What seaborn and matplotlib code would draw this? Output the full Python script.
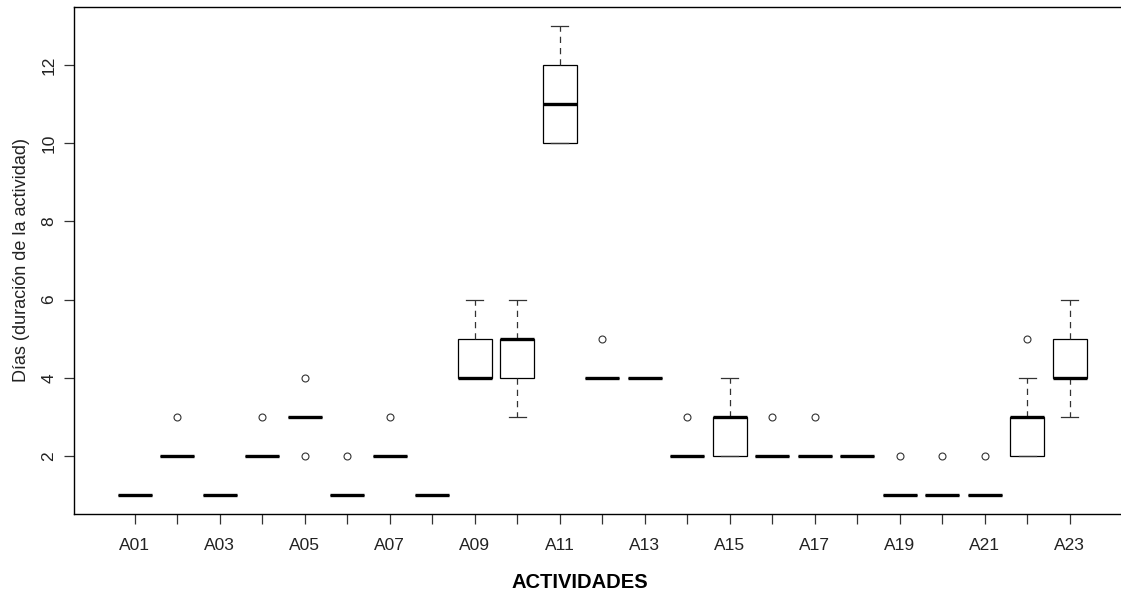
import matplotlib
matplotlib.use("Agg")
import matplotlib.pyplot as plt
import seaborn as sns
import pandas as pd

a01 = [1, 1, 1, 1, 1, 1, 1, 1, 1, 1]
a02 = [2, 2, 2, 2, 2, 2, 2, 2, 2, 3]
a03 = [1, 1, 1, 1, 1, 1, 1, 1, 1, 1]
a04 = [2, 2, 2, 2, 2, 2, 2, 2, 2, 3]
a05 = [2, 3, 3, 3, 3, 3, 3, 3, 3, 4]
a06 = [1, 1, 1, 1, 1, 1, 1, 1, 1, 2]
a07 = [2, 2, 2, 2, 2, 2, 2, 2, 2, 3]
a08 = [1, 1, 1, 1, 1, 1, 1, 1, 1, 1]
a09 = [4, 4, 4, 4, 4, 4, 5, 5, 6, 6]
a10 = [3, 4, 4, 4, 5, 5, 5, 5, 6, 6]
a11 = [10, 10, 10, 10, 11, 11, 12, 12, 12, 13]
a12 = [4, 4, 4, 4, 4, 4, 4, 4, 4, 5]
a13 = [4, 4, 4, 4, 4, 4, 4, 4, 4, 4]
a14 = [2, 2, 2, 2, 2, 2, 2, 2, 2, 3]
a15 = [2, 2, 2, 2, 3, 3, 3, 3, 3, 4]
a16 = [2, 2, 2, 2, 2, 2, 2, 2, 2, 3]
a17 = [2, 2, 2, 2, 2, 2, 2, 2, 2, 3]
a18 = [2, 2, 2, 2, 2, 2, 2, 2, 2, 2]
a19 = [1, 1, 1, 1, 1, 1, 1, 1, 1, 2]
a20 = [1, 1, 1, 1, 1, 1, 1, 1, 1, 2]
a21 = [1, 1, 1, 1, 1, 1, 1, 1, 1, 2]
a22 = [2, 2, 2, 2, 3, 3, 3, 3, 4, 5]
a23 = [3, 4, 4, 4, 4, 4, 5, 5, 5, 6]

activities = ["A01", "A02", "A03", "A04", "A05", "A06", "A07", "A08", "A09",
              "A10", "A11", "A12", "A13", "A14", "A15", "A16", "A17", "A18",
              "A19", "A20", "A21", "A22", "A23"]
series = [a01, a02, a03, a04, a05, a06, a07, a08, a09, a10, a11, a12, a13,
          a14, a15, a16, a17, a18, a19, a20, a21, a22, a23]
y_ticks = [2, 4, 6, 8, 10, 12]
x_label = "ACTIVIDADES"
y_label = "Días (duración de la actividad)"

rows = []
for act, vals in zip(activities, series):
    for v in vals:
        rows.append({"act": act, "dias": v})
df = pd.DataFrame(rows)

plt.rcParams["font.family"] = ["Liberation Sans", "DejaVu Sans"]

W, H = 1121, 592
fig = plt.figure(figsize=(W / 100, H / 100), dpi=100)
ax = fig.add_axes([74.3 / W, 1 - 514 / H, 1055.7 / W, 507 / H])

sns.boxplot(
    data=df, x="act", y="dias", order=activities, ax=ax,
    color="white", linecolor="black", linewidth=0.9, width=0.8, whis=1.5,
    saturation=1,
    medianprops=dict(color="black", linewidth=2.4, solid_capstyle="butt"),
    whiskerprops=dict(color="#333333", linestyle=(0, (5, 4)), linewidth=0.9),
    capprops=dict(color="#333333", linewidth=0.9),
    boxprops=dict(edgecolor="black", linewidth=0.9),
    flierprops=dict(marker="o", markerfacecolor="none", markeredgecolor="#333333",
                    markersize=5, markeredgewidth=0.8),
)

ax.set_xlim(-1.42, 23.42)
ax.set_ylim(0.52, 13.48)
ax.set_xticks(range(len(activities)))
ax.set_xticklabels([a if i % 2 == 0 else "" for i, a in enumerate(activities)],
                   fontsize=12.5, color="#222222")
ax.set_yticks(y_ticks)
ax.set_yticklabels([str(t) for t in y_ticks], fontsize=12.5, color="#222222",
                   rotation=90, va="center")
ax.tick_params(axis="both", direction="out", length=7, width=0.9, color="#333333")
ax.tick_params(axis="x", pad=10)
ax.tick_params(axis="y", pad=6)

for s in ["left", "bottom", "top"]:
    ax.spines[s].set_color("black")
    ax.spines[s].set_linewidth(1.0)
ax.spines["right"].set_visible(False)

ax.set_xlabel(x_label, fontsize=14.5, fontweight="bold", color="black")
ax.xaxis.set_label_coords((580 - 74.3) / 1055.7, -0.116)
ax.set_ylabel(y_label, fontsize=13, labelpad=8, color="#222222")
ax.grid(False)
ax.set_facecolor("white")

fig.savefig("out.png", dpi=100, facecolor="white")
